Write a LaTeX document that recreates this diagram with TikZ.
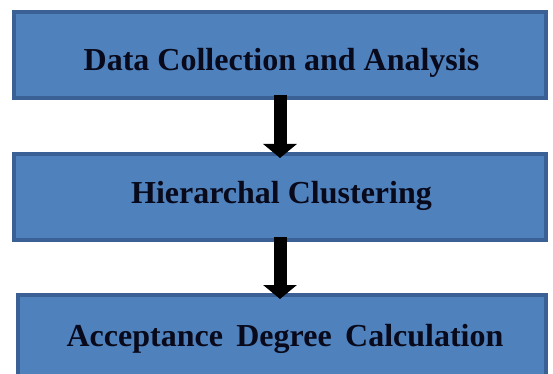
\documentclass[tikz,border=0pt]{standalone}
\usepackage{fontspec}
\setmainfont{Liberation Serif}
\usetikzlibrary{arrows.meta,shadows}
\definecolor{boxfill}{HTML}{4F81BD}
\definecolor{boxline}{HTML}{3A6096}
\definecolor{textdark}{HTML}{08091A}
\tikzset{
  stagebox/.style={draw=boxline, line width=4pt, fill=boxfill, rectangle,
    inner sep=0pt, minimum width=528pt, minimum height=86pt,
    drop shadow={shadow xshift=2pt, shadow yshift=-2pt, opacity=0.45, fill=gray}},
  stagelabel/.style={anchor=base, inner sep=0pt, text=textdark,
    font=\fontsize{32}{38}\selectfont\bfseries},
  flow/.style={line width=13pt, -{Triangle[width=33pt,length=14pt]},
    shorten <=-5pt, shorten >=-6pt}
}
\begin{document}
\begin{tikzpicture}[x=1pt,y=1pt]
\useasboundingbox (0,0) rectangle (553,-374);
% the three stages
\node[stagebox, minimum width=532pt] (b1) at (280,-55) {};
\node[stagebox, minimum width=532pt] (b2) at (280,-197) {};
\node[stagebox] (b3) at (282,-338) {};
% stage titles
\node[stagelabel] (t1) at (281.5,-70.5) {Data Collection and Analysis};
\node[stagelabel] (t2) at (281.5,-203) {Hierarchal Clustering};
\node[stagelabel] (t3) at (285,-346) {\spaceskip=0.42em\relax Acceptance Degree Calculation};
% flow between stages
\draw[flow] (b1.south) -- (b2.north);
\draw[flow] (b2.south) -- (b2.south |- b3.north);
\end{tikzpicture}
\end{document}
